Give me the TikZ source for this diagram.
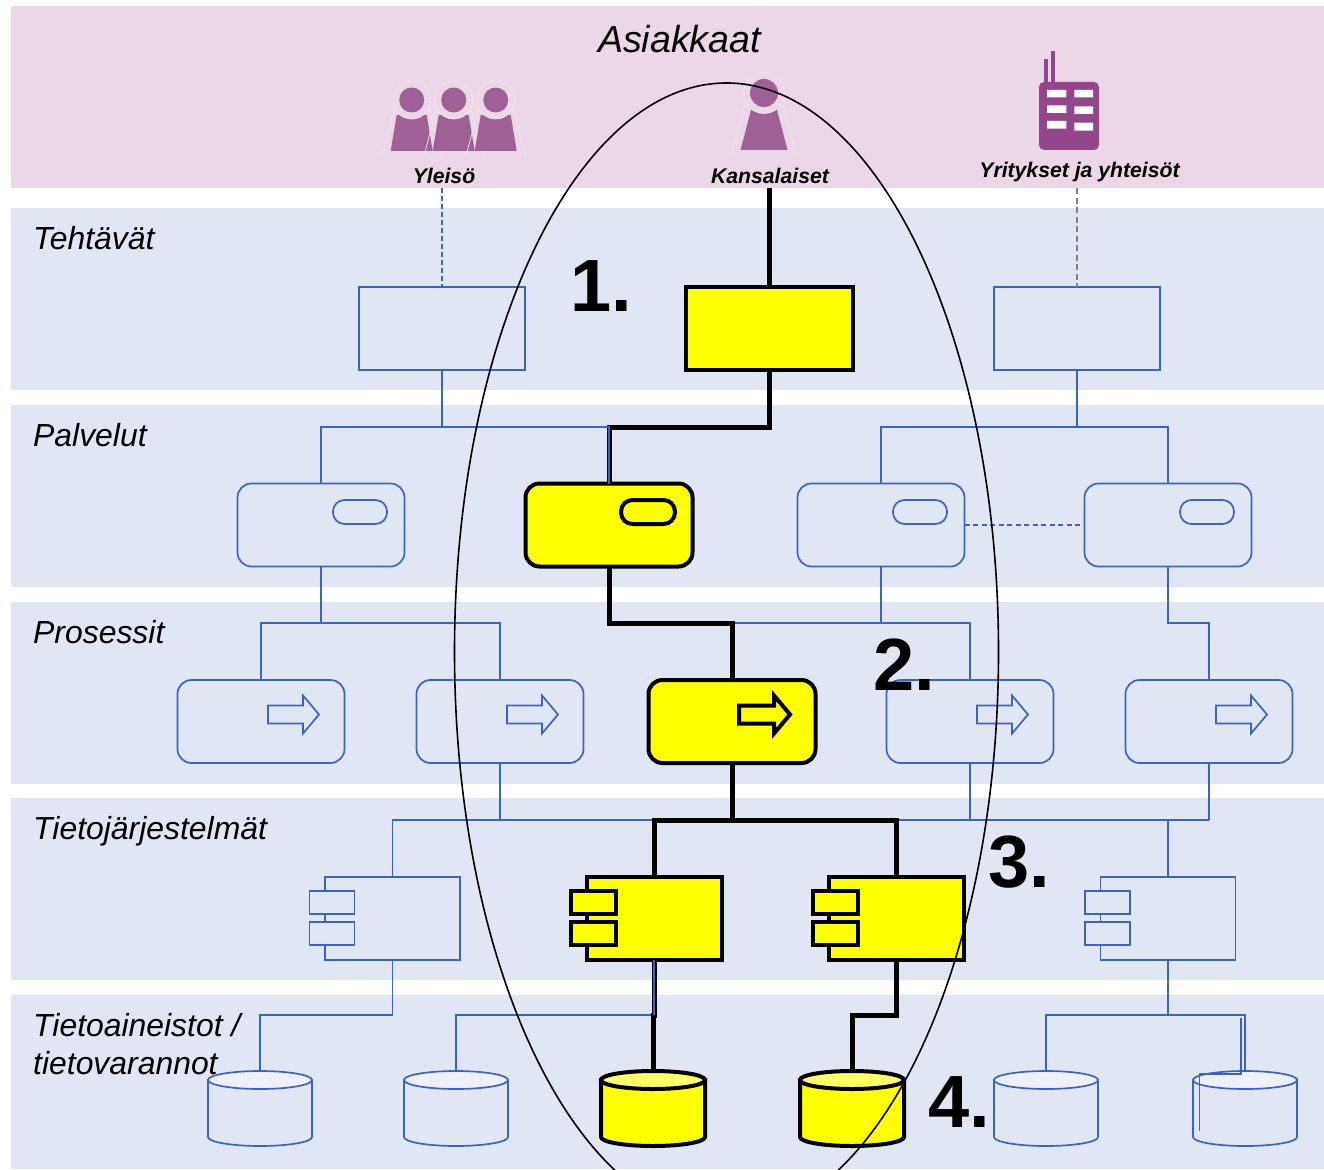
\documentclass[tikz,border=0pt]{standalone}
\usepackage{fontspec}
\setmainfont{Liberation Sans}
\usetikzlibrary{calc}
\definecolor{bandblue}{HTML}{E1E6F4}
\definecolor{bandpink}{HTML}{ECD7E8}
\definecolor{lineblue}{HTML}{3B62C4}
\definecolor{person}{HTML}{9F6096}
\definecolor{halo}{HTML}{F2E6F0}
\definecolor{firm}{HTML}{94468A}
\definecolor{topblue}{HTML}{EDF0FA}
\definecolor{topyellow}{HTML}{FFFF66}
\definecolor{hiyellow}{HTML}{FFFF00}
\tikzset{
  x=1pt,y=-1pt,
  band/.style={fill=bandblue,draw=none},
  thinlook/.style={draw=lineblue,line width=1.7pt},
  thicklook/.style={draw=black,line width=4pt,fill=hiyellow},
  box/.style={shape=rectangle,minimum width=166,minimum height=83,inner sep=0,outer sep=0},
  rbox/.style={box,rounded corners=14,minimum width=167},
  pill/.style={shape=rectangle,minimum width=54,minimum height=24,inner sep=0,outer sep=0,rounded corners=11.5},
  mainc/.style={shape=rectangle,minimum width=135,minimum height=83,inner sep=0,outer sep=0},
  tabc/.style={shape=rectangle,minimum width=45,minimum height=23,inner sep=0,outer sep=0},
  thinwire/.style={draw=lineblue,line width=1.7pt},
  thickwire/.style={draw=black,line width=5pt},
  layer/.style={anchor=base west,inner sep=0,font=\fontsize{31.9}{36}\selectfont\itshape},
  group/.style={anchor=base,inner sep=0,font=\fontsize{21.2}{24}\selectfont\bfseries\itshape},
  num/.style={anchor=base west,inner sep=0,font=\fontsize{74}{80}\selectfont\bfseries},
}
% service: name, x, y, look
\newcommand{\svc}[4]{\node[rbox,#4] (#1) at (#2,#3) {};
  \node[pill,#4] (#1p) at ($(#1.center)+(39,-13)$) {};}
% process: name, x, y, look
\newcommand{\prc}[4]{\node[rbox,#4] (#1) at (#2,#3) {};
  \path[#4,shift={(#1.center)}] (7,-16) -- (42,-16) -- (42,-26) -- (58,-7) -- (42,12) -- (42,2) -- (7,2) -- cycle;}
% component: name, x, y, look
\newcommand{\cmpn}[4]{\node[mainc,#4] (#1) at (#2,#3) {};
  \node[tabc,#4,fill=#1fill] (#1a) at ($(#1.center)+(-60.5,-16)$) {};
  \node[tabc,#4,fill=#1fill] (#1b) at ($(#1.center)+(-60.5,15)$) {};}
% cylinder: name, x, look, top colour
\newcommand{\cyl}[4]{\coordinate (#1) at (#2,1071);
  \path[#3,shift={(#1)}] (-52,9) -- (-52,66) arc[start angle=180,end angle=0,x radius=52,y radius=9] -- (52,9) -- cycle;
  \path[#3,fill=#4,shift={(#1)}] (0,9) ellipse[x radius=52,y radius=9];}
\colorlet{c1fill}{bandblue}\colorlet{c2fill}{hiyellow}\colorlet{c3fill}{hiyellow}\colorlet{c4fill}{bandblue}
% person: x, y, head radius, top y, top half width, bottom y, bottom half width, halo start x, halo start y
\newcommand{\persn}[9]{\begin{scope}[shift={(#1,#2)}]
  \fill[person] (-#7,#6) -- (-#5,#4) -- (#5,#4) -- (#7,#6) -- cycle;
  \fill[bandpink] (0,0) circle[radius=#3+6.5];
  \draw[halo,line width=.7pt] (0,0) circle[radius=#3+6.5];
  \draw[halo,line width=.7pt] (-#8,#9) -- (-#7-9,#6+6) (#8,#9) -- (#7+9,#6+6);
  \fill[person] (0,0) circle[radius=#3];
\end{scope}}
\begin{document}
\begin{tikzpicture}
\useasboundingbox (0,0) rectangle (1324,1169);
\fill[white] (0,0) rectangle (1324,1169);
% bands
\fill[bandpink] (11,6) rectangle (1324,188);
\fill[band] (11,208) rectangle (1324,390);
\fill[band] (11,405) rectangle (1324,587);
\fill[band] (11,602) rectangle (1324,784);
\fill[band] (11,798) rectangle (1324,980);
\fill[band] (11,995) rectangle (1324,1169);
% customer icons
\persn{411.7}{100}{12.5}{15}{15}{51}{21}{16.7}{6.7}
\persn{453.7}{100}{12.5}{15}{15}{51}{21}{16.7}{6.7}
\persn{495.7}{100}{12.5}{15}{15}{51}{21}{16.7}{6.7}
\persn{764}{93}{14}{17}{13}{57}{23.5}{19}{12}
\fill[firm] (1044.3,59) rectangle (1048.3,84);
\fill[firm] (1050.7,51) rectangle (1054.7,84);
\fill[firm,rounded corners=5] (1039,82) rectangle (1099,150);
\fill[white] (1047,90) rectangle (1066.3,97.3) (1047,105.3) rectangle (1066.3,113) (1047,121) rectangle (1066.3,128.7)
  (1074.3,90) rectangle (1093,97.3) (1074.3,106.3) rectangle (1093,114) (1074.3,122.7) rectangle (1093,130.7);
% bus levels
\coordinate (b1) at (0,427);\coordinate (b2) at (0,623);\coordinate (b3) at (0,820);\coordinate (b4) at (0,1015);
\coordinate (ylei) at (442,188);\coordinate (kans) at (769,188);\coordinate (yrit) at (1077,188);
% tasks
\node[box,thinlook] (t1) at (442,328.5) {};
\node[box,thicklook,minimum width=167] (t2) at (769,328.5) {};
\node[box,thinlook] (t3) at (1077,328.5) {};
% services
\svc{s1}{321}{525}{thinlook}
\svc{s2}{609}{525}{thicklook}
\svc{s3}{881}{525}{thinlook}
\svc{s4}{1168}{525}{thinlook}
% processes
\prc{p1}{261}{721.5}{thinlook}
\prc{p2}{500}{721.5}{thinlook}
\prc{p3}{732}{721.5}{thicklook}
\prc{p4}{970}{721.5}{thinlook}
\prc{p5}{1209}{721.5}{thinlook}
% components
\cmpn{c1}{392.5}{918.5}{thinlook}
\cmpn{c2}{654}{918.5}{thicklook}
\cmpn{c3}{896}{918.5}{thicklook}
\cmpn{c4}{1168}{918.5}{thinlook}
% cylinders
\cyl{d1}{260}{thinlook}{topblue}
\cyl{d2}{456}{thinlook}{topblue}
\cyl{d3}{653}{thicklook}{topyellow}
\cyl{d4}{852}{thicklook}{topyellow}
\cyl{d5}{1046}{thinlook}{topblue}
\cyl{d6}{1245}{thinlook}{topblue}
% thin connectors
\draw[thinwire,dash pattern=on 5pt off 3pt] (ylei) -- (t1.north);
\draw[draw=gray,line width=2.5pt,dash pattern=on 6pt off 3.5pt] (yrit) -- (t3.north);
\draw[thinwire] (t1.south) -- (t1.south |- b1);
\draw[thinwire] (t3.south) -- (t3.south |- b1);
\draw[thinwire] (s3.north) |- (b1 -| s4.north) -- (s4.north);
\draw[thinwire] (s1.south) -- (s1.south |- b2);
\draw[thinwire] (p1.north) |- (b2 -| p2.north) -- (p2.north);
\draw[thinwire] (s3.south) -- (s3.south |- b2);
\draw[thinwire] (p3.north |- b2) -| (p4.north);
\draw[thinwire] (s4.south) |- (b2 -| p5.north) -- (p5.north);
\draw[thinwire] (p2.south) -- (p2.south |- b3);
\draw[thinwire] (p4.south) -- (p4.south |- b3);
\draw[thinwire] (p5.south) -- (p5.south |- b3);
\draw[thinwire] (c1.north) |- (b3 -| p5.south);
\draw[thinwire] (c4.north) -- (c4.north |- b3);
\draw[thinwire] (c1.south) |- (b4 -| d1) -- (d1);
\draw[thinwire] (c2.south |- b4) -| (d2);
\draw[thinwire] (c4.south) -- (c4.south |- b4);
\draw[thinwire] (d5) |- (b4 -| d6) -- (d6);
\draw[thinwire,line width=1.3pt] (1241,1018) -- (1241,1074) -- (1199.5,1074) -- (1199.5,1131);
\draw[thinwire,dash pattern=on 5pt off 3.5pt] (s3.east) -- (s4.west);
% thick connectors
\draw[thickwire] (kans) -- (t2.north);
\draw[thickwire] (t2.south) |- (b1 -| s2.north) -- (s2.north);
\draw[thickwire] (s2.south) |- (b2 -| p3.north) -- (p3.north);
\draw[thickwire] (p3.south) -- (p3.south |- b3);
\draw[thickwire] (c2.north) |- (b3 -| c3.north) -- (c3.north);
\draw[thickwire] (c3.south) |- (b4 -| d4) -- (d4);
\draw[thickwire] (c2.south) -- (c2.south |- b4) -- (b4 -| d3) -- (d3);
% thin lines that lie over the thick ones
\draw[thinwire] (s1.north) |- (b1 -| s2.north) -- (s2.north);
\draw[thinwire] (c2.south) -- (c2.south |- b4);
% ellipse
\begin{scope}
\clip (0,0) rectangle (1324,1169);
\draw[black,line width=1.6pt] (726.5,651.6) ellipse[x radius=272,y radius=568.6];
\end{scope}
% labels
\node[anchor=base,inner sep=0,font=\fontsize{37.6}{42}\selectfont\itshape] (lA) at (679.5,53) {Asiakkaat};
\node[group] (lY) at (444,183) {Yleisö};
\node[group] (lK) at (770,183) {Kansalaiset};
\node[group] (lF) at (1079.5,178) {Yritykset ja yhteisöt};
\node[layer] (l1) at (33,249) {Tehtävät};
\node[layer] (l2) at (33,446) {Palvelut};
\node[layer] (l3) at (33,643) {Prosessit};
\node[layer] (l4) at (33,839) {Tietojärjestelmät};
\node[layer] (l5) at (33,1036) {Tietoaineistot /};
\node[layer] (l6) at (33,1074) {tietovarannot};
\node[num] (n1) at (570,311.5) {1.};
\node[num] (n2) at (873.5,690) {2.};
\node[num] (n3) at (988.5,887) {3.};
\node[num] (n4) at (928.5,1127) {4.};
\end{tikzpicture}
\end{document}
